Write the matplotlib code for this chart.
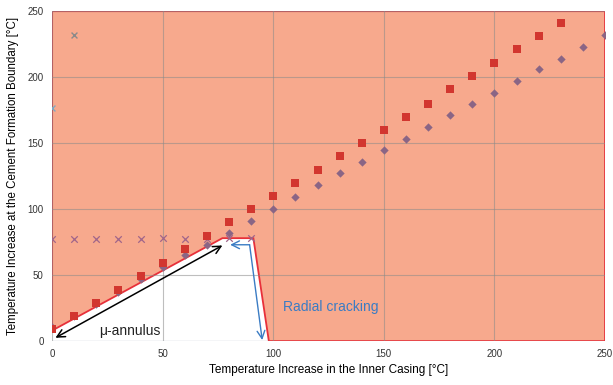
import numpy as np
import matplotlib
matplotlib.use("Agg")
import matplotlib.pyplot as plt
from matplotlib.patches import Polygon

plt.rcParams['font.family'] = ['Liberation Sans', 'DejaVu Sans']

# data
sq_x = [0, 10, 20, 30, 40, 50, 60, 70, 80, 90, 100, 110, 120, 130, 140, 150,
        160, 170, 180, 190, 200, 210, 220, 230]
sq_y = [9, 19, 29, 39, 49, 59, 70, 80, 90, 100, 110, 120, 130, 140, 150, 160,
        170, 180, 191, 201, 211, 221, 231, 241]
dia_x = [0, 10, 20, 30, 40, 50, 60, 70, 80, 90, 100, 110, 120, 130, 140, 150,
         160, 170, 180, 190, 200, 210, 220, 230, 240, 250]
dia_y = [11, 19, 28, 37, 47, 56, 65, 73, 82, 91, 100, 109, 118, 127, 136, 145,
         153, 162, 171, 180, 188, 197, 206, 214, 223, 232]
cross_x = [0, 10, 20, 30, 40, 50, 60, 70, 80, 90]
cross_y = [77, 77, 77, 77, 77, 78, 77, 77, 78, 78]
outlier_x = [0, 10]
outlier_y = [177, 232]

# boundary of the white (intact) zone
zone_x = [0, 77, 91, 98, 250, 250, 0]
zone_y = [8, 78, 78, 0, 0, 250, 250]

fig = plt.figure(figsize=(6.13, 3.85), dpi=100)
ax = fig.add_axes([0.085, 0.114, 0.902, 0.857])

poly = Polygon(list(zip(zone_x, zone_y)), closed=True, facecolor='#F7A98D',
               edgecolor='#E8303A', linewidth=1.3, zorder=1)
ax.add_patch(poly)
ax.plot([0, 98], [0, 0], color='#7D9BC0', linewidth=0.8, zorder=1.6)

ax.grid(True, color='#8a8a8a', alpha=0.55, linewidth=0.8)
ax.set_axisbelow('line')

ax.scatter(dia_x, dia_y, marker='D', s=18, color='#8A6585', zorder=3, linewidths=0)
ax.scatter(sq_x, sq_y, marker='s', s=36, color='#D2362F', zorder=4, linewidths=0)
ax.scatter(cross_x, cross_y, marker='x', s=22, color='#A0658A', zorder=3, linewidths=0.9)
ax.scatter(outlier_x[:1], outlier_y[:1], marker='x', s=18, color='#7FA7C0', zorder=3, linewidths=1)
ax.scatter(outlier_x[1:], outlier_y[1:], marker='x', s=18, color='#8A8A8A', zorder=3, linewidths=1)

# mu-annulus double arrow
ax.annotate('', xy=(1.5, 2.5), xytext=(77, 72.5),
            arrowprops=dict(arrowstyle='<->', color='black', lw=1.1,
                            shrinkA=0, shrinkB=0, mutation_scale=14), zorder=5)
ax.text(35, 7.5, 'μ-annulus', fontsize=10, color='#222222', ha='center', va='center')

# radial cracking arrow
blue = '#3B7CC4'
ax.annotate('', xy=(80.5, 73), xytext=(89.3, 73),
            arrowprops=dict(arrowstyle='->', color=blue, lw=1.0,
                            shrinkA=0, shrinkB=0, mutation_scale=14), zorder=5)
ax.annotate('', xy=(95, 0.8), xytext=(89.3, 73),
            arrowprops=dict(arrowstyle='->', color=blue, lw=1.0,
                            shrinkA=0, shrinkB=0, mutation_scale=14), zorder=5)
ax.text(126, 26, 'Radial cracking', fontsize=10, color=blue, ha='center', va='center')

ax.set_xlim(0, 250)
ax.set_ylim(0, 250)
ax.set_xticks(np.arange(0, 251, 50))
ax.set_yticks(np.arange(0, 251, 50))
ax.tick_params(labelsize=7, length=0, pad=6, colors='#333333')
for s in ax.spines.values():
    s.set_visible(False)

ax.set_xlabel('Temperature Increase in the Inner Casing [°C]', fontsize=8.5, labelpad=3)
ax.set_ylabel('Temperature Increase at the Cement Formation Boundary [°C]', fontsize=8.3, labelpad=6)

fig.savefig('out.png', dpi=100)
